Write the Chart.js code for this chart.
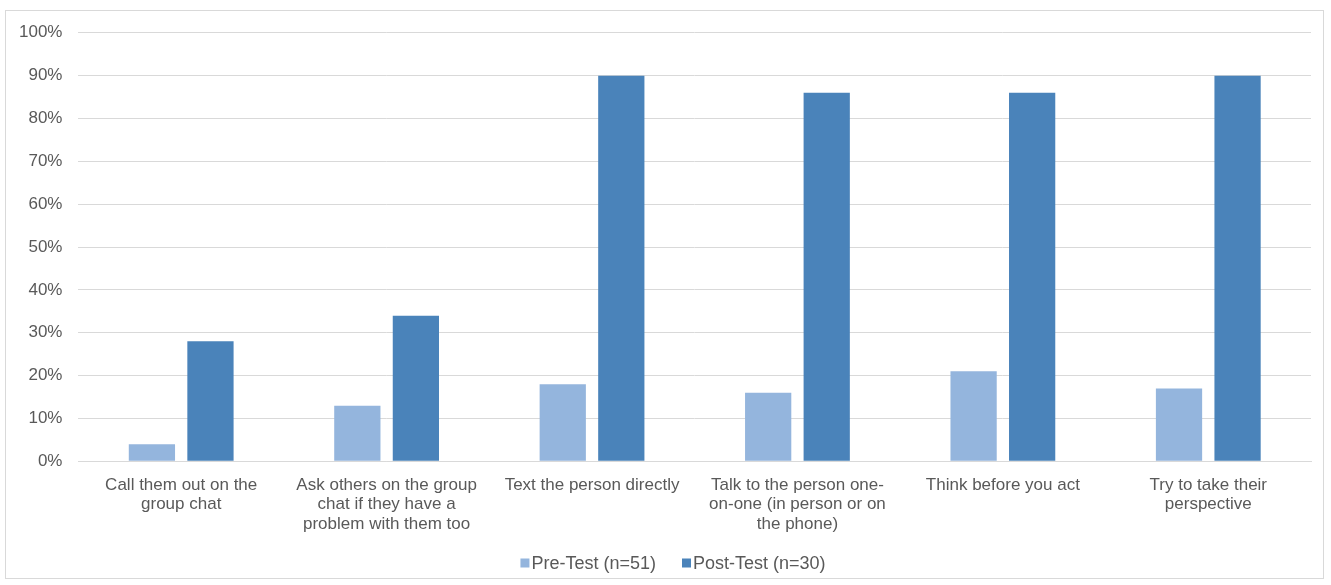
<!DOCTYPE html>
<html>
<head>
<meta charset="utf-8">
<script src="https://cdn.jsdelivr.net/npm/chart.js@4"></script>
<style>
  html, body { margin: 0; padding: 0; background: #ffffff; overflow: hidden; }
  #frame {
    position: absolute; left: 5px; top: 10px;
    width: 1319px; height: 569px;
    border: 1px solid #d9d9d9; box-sizing: border-box; background: #fff;
  }
  #plot {
    position: absolute; left: 3px; top: 7px;
    width: 1320px; height: 580px;
  }
  canvas { display: block; }
</style>
</head>
<body>
<div id="frame"></div>
<div id="plot"><canvas id="chart"></canvas></div>
<script>
// Responses to the scenario, before and after the programme
const categories = [
  ["Call them out on the", "group chat"],
  ["Ask others on the group", "chat if they have a", "problem with them too"],
  ["Text the person directly"],
  ["Talk to the person one-", "on-one (in person or on", "the phone)"],
  ["Think before you act"],
  ["Try to take their", "perspective"]
];
const preTest  = [4, 13, 18, 16, 21, 17];
const postTest = [28, 34, 90, 86, 86, 90];
const seriesNames = ["Pre-Test (n=51)", "Post-Test (n=30)"];
const yTicks = [0, 10, 20, 30, 40, 50, 60, 70, 80, 90, 100];

const textColor = "#595959";
const gridColor = "#d9d9d9";
const fontFamily = "'Liberation Sans', Arial, sans-serif";
const font = { family: fontFamily, size: 17, lineHeight: 1.15 };

// Compact legend row under the x labels: small square swatch, tight gap to the text
const compactLegend = {
  id: "compactLegend",
  afterDraw(chart) {
    const ctx = chart.ctx;
    const box = 9, boxGap = 2, itemGap = 26;
    ctx.save();
    ctx.font = "18px " + fontFamily;
    ctx.textBaseline = "middle";
    ctx.textAlign = "left";
    const items = chart.data.datasets.map(ds => ({
      text: ds.label, color: ds.backgroundColor, w: ctx.measureText(ds.label).width
    }));
    const total = items.reduce((s, it) => s + box + boxGap + it.w, 0) + itemGap * (items.length - 1);
    let x = chart.width / 2 + 10 - total / 2;
    const y = chart.height - 24;
    items.forEach(it => {
      ctx.fillStyle = it.color;
      ctx.fillRect(x, y - box / 2, box, box);
      x += box + boxGap;
      ctx.fillStyle = textColor;
      ctx.fillText(it.text, x, y + 1);
      x += it.w + itemGap;
    });
    ctx.restore();
  }
};

new Chart(document.getElementById("chart"), {
  type: "bar",
  data: {
    labels: categories,
    datasets: [
      { label: seriesNames[0], data: preTest,  backgroundColor: "#94b5dd" },
      { label: seriesNames[1], data: postTest, backgroundColor: "#4a83ba" }
    ]
  },
  plugins: [compactLegend],
  options: {
    responsive: true,
    maintainAspectRatio: false,
    animation: false,
    categoryPercentage: 0.57,
    barPercentage: 0.79,
    layout: { padding: { top: 3, right: 12, bottom: 39, left: 0 } },
    plugins: {
      tooltip: { enabled: false },
      legend: { display: false }
    },
    scales: {
      x: {
        grid: { display: false, drawTicks: false },
        border: { color: gridColor },
        ticks: { color: textColor, font: font, maxRotation: 0, autoSkip: false, padding: 14 }
      },
      y: {
        min: 0, max: 100,
        afterBuildTicks: (axis) => { axis.ticks = yTicks.map(v => ({ value: v })); },
        grid: { color: gridColor, drawTicks: false },
        border: { display: false },
        ticks: {
          color: textColor, font: font, padding: 16,
          callback: (v) => v + "%"
        }
      }
    }
  }
});
</script>
</body>
</html>
